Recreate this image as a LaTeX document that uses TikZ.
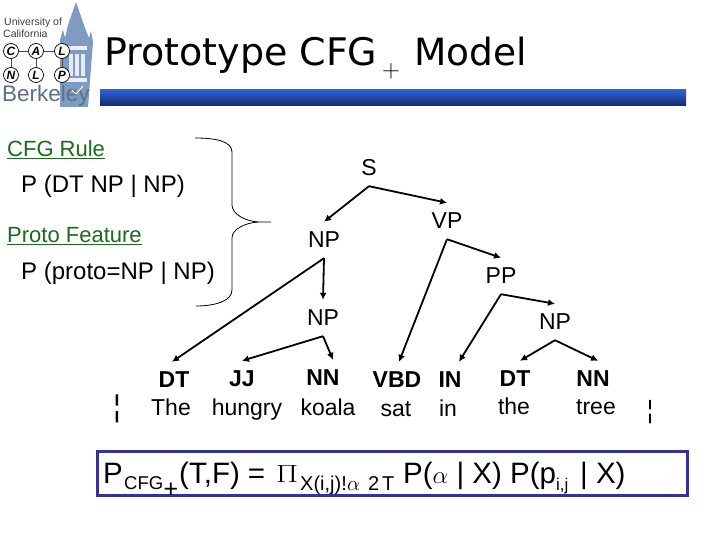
\documentclass[tikz,border=0pt]{standalone}
\usepackage{fontspec}
\setmainfont{Liberation Sans}
\newfontfamily\titlefont{DejaVu Sans}
\usetikzlibrary{arrows.meta}
\newcommand{\fsz}[1]{\fontsize{#1}{#1}\selectfont}
\definecolor{rulegreen}{HTML}{1B6B1B}
\definecolor{boxblue}{HTML}{33339A}
\definecolor{towerblue}{HTML}{7E9BC4}
\definecolor{berkgray}{HTML}{5F6F85}
\definecolor{bartop}{HTML}{2E62D9}
\definecolor{barmid}{HTML}{2456C4}
\definecolor{barbot}{HTML}{142A66}
\tikzset{
  x=1pt,y=-1pt,
  treelabel/.style={font=\fsz{23}, inner sep=0pt, minimum height=36pt},
  poslabel/.style={font=\fsz{23}\bfseries, inner sep=0pt, minimum height=36pt},
  wordlabel/.style={font=\fsz{23}, inner sep=0pt, anchor=base},
  bodytext/.style={font=\fsz{24}, inner sep=0pt, anchor=base west},
  headtext/.style={font=\fsz{22}, text=rulegreen, inner sep=0pt, anchor=base west},
  formula/.style={font=\fsz{29.5}, inner sep=0pt, anchor=base west},
  formsub/.style={font=\fsz{20}, inner sep=0pt, anchor=base west},
  treearrow/.style={line width=1.8pt, -{Latex[length=7pt,width=7pt]}},
  logoball/.style={circle, draw=black, fill=white, line width=0.7pt, minimum size=15pt, inner sep=0pt, font=\fsz{12}\bfseries\itshape},
  logolink/.style={line width=0.6pt, black!70},
  bracecurve/.style={line width=0.8pt},
}
\begin{document}
\begin{tikzpicture}
\useasboundingbox (0,0) rectangle (720,540);
\fill[white] (0,0) rectangle (720,540);

% logo tower
\fill[towerblue] (60,107) -- (60,40) -- (63,30) -- (65,38) -- (68,25) -- (76,2) -- (85,28) -- (89,38) -- (91,31) -- (93,42) -- (88,107) -- cycle;
\fill[white!85!towerblue] (66,50) rectangle (87,46);
\fill[white!85!towerblue] (66,82) rectangle (87,78);
\foreach \lx in {69,75,81}{\fill[white!80!towerblue] (\lx,76) rectangle ++(4,-22);}
\node[font=\fsz{10.5}, text=black!75, inner sep=0pt, anchor=base west] (univ) at (4,26) {University of};
\node[font=\fsz{10.5}, text=black!75, inner sep=0pt, anchor=base west] (calif) at (3,38) {California};
\node[logoball] (lc) at (11,51) {C};
\node[logoball] (la) at (36,51) {A};
\node[logoball] (ll) at (62,51) {L};
\node[logoball] (ln) at (11,75) {N};
\node[logoball] (ll2) at (36,75) {L};
\node[logoball] (lp) at (62,75) {P};
\draw[logolink] (lc) -- (la);
\draw[logolink] (la) -- (ll);
\draw[logolink] (lc) -- (ln);
\draw[logolink] (la) -- (ll2);
\draw[logolink] (ll) -- (lp);
\node[font=\fsz{22.5}, text=berkgray, inner sep=0pt, anchor=base west] (berk) at (2,102) {Berkeley};
\draw[white, line width=1pt] (72,90) -- (76,94) -- (83,86);

% title
\node[font=\titlefont\fsz{38}, inner sep=0pt, anchor=base west] (title1) at (104,66) {Prototype CFG};
\node[font=\fsz{24}, inner sep=0pt] (titleplus) at (391,71) {$+$};
\node[font=\titlefont\fsz{37.5}, inner sep=0pt, anchor=base west] (title2) at (414,66) {Model};
\shade[top color=bartop, middle color=barmid, bottom color=barbot] (100,90) rectangle (686,106);

% left text
\node[headtext] (cfg) at (7,157) {\underline{CFG Rule}};
\node[bodytext] (pdt) at (21,193) {P (DT NP | NP)};
\node[headtext] (proto) at (7,243) {\underline{Proto Feature}};
\node[bodytext] (pproto) at (21,279) {P (proto=NP | NP)};

% brace
\coordinate (bt) at (195,138);
\coordinate (bm) at (271,222);
\coordinate (bb) at (196,306);
\draw[bracecurve] (bt) .. controls (215,138) and (232,141) .. (232,152) -- (232,205) .. controls (232,214) and (245,221) .. (258,222) -- (bm);
\draw[bracecurve] (bb) .. controls (215,306) and (232,301) .. (232,290) -- (232,238) .. controls (232,229) and (245,223) .. (258,222);

% tree
\node[treelabel] (S) at (369,168) {S};
\node[treelabel] (NPa) at (324,240) {NP};
\node[treelabel] (VP) at (447,221) {VP};
\node[treelabel] (PP) at (501,276) {PP};
\node[treelabel] (NPb) at (323,318) {NP};
\node[treelabel] (NPc) at (555,322) {NP};
\node[poslabel] (DTa) at (174,380) {DT};
\node[poslabel] (JJ) at (242,379) {JJ};
\node[poslabel] (NNa) at (323,378) {NN};
\node[poslabel] (VBD) at (397,380) {VBD};
\node[poslabel] (IN) at (450,380) {IN};
\node[poslabel] (DTb) at (515,379) {DT};
\node[poslabel] (NNb) at (593,379) {NN};

\draw[treearrow] (S.south) -- (NPa.north);
\draw[treearrow] (S.south) -- (VP.north);
\draw[treearrow] (NPa.south) -- (NPb.north);
\draw[treearrow] (NPa.south) -- ([xshift=-2pt]DTa.north);
\draw[treearrow] (NPb.south) -- (JJ.north);
\draw[treearrow] (NPb.south) -- ([xshift=10pt]NNa.north);
\draw[treearrow] (VP.south) -- ([xshift=2pt]VBD.north);
\draw[treearrow] (VP.south) -- (PP.north);
\draw[treearrow] (PP.south) -- ([xshift=9pt]IN.north);
\draw[treearrow] (PP.south) -- (NPc.north);
\draw[treearrow] (NPc.south) -- ([xshift=5pt]DTb.north);
\draw[treearrow] (NPc.south) -- ([xshift=5pt]NNb.north);

% words
\node[wordlabel] (wthe) at (171,415) {The};
\node[wordlabel] (whungry) at (247,415) {hungry};
\node[wordlabel] (wkoala) at (328,415) {koala};
\node[wordlabel] (wsat) at (396,416) {sat};
\node[wordlabel] (win) at (448,416) {in};
\node[wordlabel] (wthe2) at (514,414) {the};
\node[wordlabel] (wtree) at (596,414) {tree};
\node[font=\fsz{30}, inner sep=0pt] (barl) at (117,409) {¦};
\node[font=\fsz{25}, inner sep=0pt] (barr) at (650,412) {¦};

% formula
\draw[boxblue, line width=3pt] (97,451) rectangle (687,495);
\node[formula] (fp) at (103,483) {P};
\node[formsub] (fcfg) at (124,489) {\fsz{18.5}CFG};
\node[font=\fsz{25}, inner sep=0pt] (fplus) at (171,490) {+};
\node[formula] (ft) at (179,483) {(T,F) =};
\node[font=\fsz{33}, inner sep=0pt, xscale=1.3] (fpi) at (287,474) {$\Pi$};
\node[formsub] (fx) at (300,490) {X(i,j)!};
\node[formsub] (fal) at (347,490) {$\alpha$};
\node[formsub] (f2) at (368,490) {2};
\node[formsub] (ft2) at (382,490) {T};
\node[formula] (fa) at (403,483) {P($\alpha$ | X) P(p};
\node[formsub] (fij) at (556,490) {\fsz{17}i,j};
\node[formula] (fb) at (580,483) {| X)};
\end{tikzpicture}
\end{document}
